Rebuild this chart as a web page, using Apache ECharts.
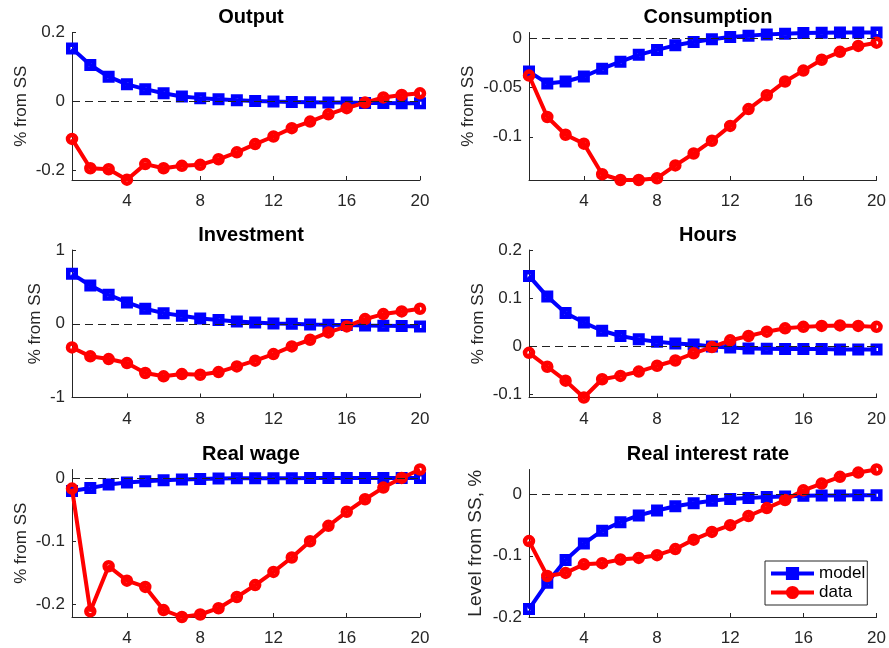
<!DOCTYPE html>
<html>
<head>
<meta charset="utf-8">
<title>Impulse responses: model vs data</title>
<script src="https://cdn.jsdelivr.net/npm/echarts@6/dist/echarts.min.js"></script>
<style>
  html, body { margin: 0; padding: 0; background: #fff; }
  #chart { width: 889px; height: 648px; }
</style>
</head>
<body>
<div id="chart"></div>
<script>
// Horizon (quarters) and x-axis ticks
const periods = [1, 2, 3, 4, 5, 6, 7, 8, 9, 10, 11, 12, 13, 14, 15, 16, 17, 18, 19, 20];
const xTicks = [4, 8, 12, 16, 20];

// Output
const outputModel = [0.154, 0.106, 0.072, 0.050, 0.036, 0.024, 0.015, 0.010, 0.007, 0.004, 0.002, 0.000, -0.001, -0.002, -0.003, -0.003, -0.004, -0.004, -0.005, -0.005];
const outputData = [-0.108, -0.193, -0.196, -0.226, -0.181, -0.193, -0.186, -0.183, -0.167, -0.147, -0.123, -0.101, -0.077, -0.058, -0.037, -0.019, -0.003, 0.012, 0.019, 0.024];
const outputTicks = [-0.2, 0, 0.2];

// Consumption
const consumptionModel = [-0.034, -0.046, -0.044, -0.039, -0.031, -0.024, -0.017, -0.012, -0.0074, -0.004, -0.0013, 0.001, 0.0024, 0.0037, 0.0044, 0.005, 0.0053, 0.0055, 0.0055, 0.0056];
const consumptionData = [-0.038, -0.080, -0.098, -0.107, -0.138, -0.1438, -0.1438, -0.142, -0.129, -0.117, -0.104, -0.089, -0.072, -0.058, -0.044, -0.033, -0.022, -0.014, -0.008, -0.0047];
const consumptionTicks = [-0.1, -0.05, 0];

// Investment
const investmentModel = [0.677, 0.519, 0.393, 0.289, 0.203, 0.144, 0.108, 0.072, 0.050, 0.032, 0.018, 0.005, 0.000, -0.009, -0.014, -0.018, -0.023, -0.027, -0.032, -0.036];
const investmentData = [-0.321, -0.442, -0.479, -0.533, -0.668, -0.713, -0.682, -0.691, -0.655, -0.578, -0.501, -0.411, -0.307, -0.217, -0.117, -0.036, 0.063, 0.131, 0.167, 0.203];
const investmentTicks = [-1, 0, 1];

// Hours
const hoursModel = [0.146, 0.103, 0.069, 0.049, 0.032, 0.021, 0.014, 0.009, 0.0055, 0.0035, -0.001, -0.003, -0.005, -0.0055, -0.006, -0.006, -0.006, -0.007, -0.007, -0.007];
const hoursData = [-0.014, -0.043, -0.072, -0.107, -0.069, -0.062, -0.053, -0.041, -0.030, -0.015, -0.002, 0.012, 0.021, 0.030, 0.037, 0.040, 0.042, 0.043, 0.042, 0.040];
const hoursTicks = [-0.1, 0, 0.1, 0.2];

// Real wage
const wageModel = [-0.0197, -0.015, -0.0096, -0.0064, -0.0043, -0.0027, -0.0016, -0.0005, 0.000, 0.0005, 0.0005, 0.0006, 0.0007, 0.0008, 0.0008, 0.0009, 0.0009, 0.001, 0.001, 0.001];
const wageData = [-0.016, -0.212, -0.140, -0.163, -0.173, -0.210, -0.221, -0.217, -0.207, -0.189, -0.170, -0.149, -0.126, -0.100, -0.0755, -0.053, -0.033, -0.0144, 0.001, 0.0145];
const wageTicks = [-0.2, -0.1, 0];

// Real interest rate
const rateModel = [-0.187, -0.144, -0.107, -0.080, -0.059, -0.045, -0.034, -0.026, -0.019, -0.014, -0.010, -0.007, -0.0055, -0.004, -0.003, -0.002, -0.0016, -0.0016, -0.001, -0.001];
const rateData = [-0.076, -0.133, -0.128, -0.114, -0.112, -0.106, -0.1035, -0.099, -0.089, -0.0736, -0.061, -0.050, -0.035, -0.022, -0.009, 0.007, 0.018, 0.029, 0.036, 0.041];
const rateTicks = [-0.2, -0.1, 0];

const FONT = "'Liberation Sans', Arial, Helvetica, sans-serif";
const AXIS_COLOR = '#262626';
const BLUE = '#0000ff';
const RED = '#ff0000';

const panels = [
  { title: 'Output', ylabel: '% from SS', model: outputModel, data: outputData, ticks: outputTicks, min: -0.227, max: 0.2, col: 0, row: 0, gap: 42, nameSize: 17 },
  { title: 'Consumption', ylabel: '% from SS', model: consumptionModel, data: consumptionData, ticks: consumptionTicks, min: -0.1438, max: 0.0056, col: 1, row: 0, gap: 52, nameSize: 17 },
  { title: 'Investment', ylabel: '% from SS', model: investmentModel, data: investmentData, ticks: investmentTicks, min: -1, max: 1, col: 0, row: 1, gap: 28, nameSize: 17 },
  { title: 'Hours', ylabel: '% from SS', model: hoursModel, data: hoursData, ticks: hoursTicks, min: -0.107, max: 0.2, col: 1, row: 1, gap: 42, nameSize: 17 },
  { title: 'Real wage', ylabel: '% from SS', model: wageModel, data: wageData, ticks: wageTicks, min: -0.221, max: 0.0145, col: 0, row: 2, gap: 42, nameSize: 17 },
  { title: 'Real interest rate', ylabel: 'Level from SS, %', model: rateModel, data: rateData, ticks: rateTicks, min: -0.2, max: 0.041, col: 1, row: 2, gap: 44, nameSize: 19 }
];

const colLeft = [72, 529];
const plotWidth = 348;
const rowTop = [32.5, 250, 469.5];
const plotHeight = 147.5;

const fmt = v => String(Math.round(v * 1000) / 1000);

const grid = [], xAxis = [], yAxis = [], title = [], series = [];

panels.forEach((p, i) => {
  const left = colLeft[p.col];
  const top = rowTop[p.row];
  grid.push({ left: left, top: top, width: plotWidth, height: plotHeight, containLabel: false });

  title.push({
    text: p.title,
    left: left + plotWidth / 2,
    top: top - 30,
    textAlign: 'center',
    textStyle: { fontFamily: FONT, fontSize: 20, fontWeight: 'bold', color: '#000' }
  });

  xAxis.push({
    type: 'value', gridIndex: i, min: 1, max: 20,
    axisLine: { show: true, onZero: false, lineStyle: { color: AXIS_COLOR, width: 1 } },
    axisTick: { show: true, inside: true, length: 4, customValues: xTicks, lineStyle: { color: AXIS_COLOR } },
    axisLabel: { show: true, customValues: xTicks, margin: 13, fontFamily: FONT, fontSize: 17, color: AXIS_COLOR, formatter: fmt },
    splitLine: { show: false }
  });

  yAxis.push({
    type: 'value', gridIndex: i, min: p.min, max: p.max,
    name: p.ylabel, nameLocation: 'middle', nameRotate: 90, nameGap: p.gap,
    nameTextStyle: { fontFamily: FONT, fontSize: p.nameSize, color: AXIS_COLOR },
    axisLine: { show: true, onZero: false, lineStyle: { color: AXIS_COLOR, width: 1 } },
    axisTick: { show: true, inside: true, length: 4, customValues: p.ticks, lineStyle: { color: AXIS_COLOR } },
    axisLabel: { show: true, customValues: p.ticks, margin: 7, fontFamily: FONT, fontSize: 17, color: AXIS_COLOR, formatter: fmt },
    splitLine: { show: false }
  });

  // model: blue squares
  series.push({
    name: 'model', type: 'line', xAxisIndex: i, yAxisIndex: i,
    data: periods.map((t, k) => [t, p.model[k]]),
    symbol: 'rect', symbolSize: 7.5, showAllSymbol: true, clip: false,
    lineStyle: { color: BLUE, width: 4 },
    itemStyle: { color: 'rgba(0,0,0,0)', borderColor: BLUE, borderWidth: 4.5 },
    emphasis: { disabled: true },
    z: 3,
    markLine: {
      silent: true, symbol: 'none', animation: false,
      label: { show: false },
      lineStyle: { color: '#222', width: 1, type: [8, 5] },
      data: [{ yAxis: 0 }]
    }
  });

  // data: red circles
  series.push({
    name: 'data', type: 'line', xAxisIndex: i, yAxisIndex: i,
    data: periods.map((t, k) => [t, p.data[k]]),
    symbol: 'circle', symbolSize: 8, showAllSymbol: true, clip: false,
    lineStyle: { color: RED, width: 4 },
    itemStyle: { color: 'rgba(0,0,0,0)', borderColor: RED, borderWidth: 4.5 },
    emphasis: { disabled: true },
    z: 4
  });
});

const chart = echarts.init(document.getElementById('chart'), null, { renderer: 'canvas' });
chart.setOption({
  animation: false,
  backgroundColor: '#fff',
  textStyle: { fontFamily: FONT },
  title: title,
  grid: grid,
  xAxis: xAxis,
  yAxis: yAxis,
  legend: {
    orient: 'vertical',
    left: 765, top: 561,
    padding: [4, 2, 4, 4],
    itemGap: 2,
    itemWidth: 43, itemHeight: 14,
    backgroundColor: '#fff',
    borderColor: AXIS_COLOR, borderWidth: 1,
    selectedMode: false,
    textStyle: { fontFamily: FONT, fontSize: 17, color: '#000' },
    data: [
      { name: 'model', itemStyle: { color: BLUE, borderColor: BLUE }, lineStyle: { color: BLUE, width: 4 } },
      { name: 'data', itemStyle: { color: RED, borderColor: RED }, lineStyle: { color: RED, width: 4 } }
    ]
  },
  series: series
});
</script>
</body>
</html>
